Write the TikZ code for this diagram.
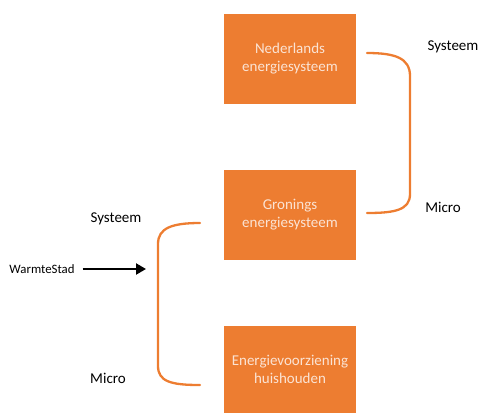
\documentclass[tikz,border=0pt]{standalone}
\usepackage{fontspec}
\setmainfont{Carlito}
\usetikzlibrary{arrows.meta}
\definecolor{boxorange}{HTML}{ED7D31}
\definecolor{boxtext}{HTML}{FBE3D4}
\begin{document}
\begin{tikzpicture}[x=1pt,y=-1pt,
  orangebox/.style={fill=boxorange,draw=none,minimum width=132pt,minimum height=90pt,
    text=boxtext,align=center,font=\fontsize{15}{18}\selectfont,inner sep=0pt},
  lvl/.style={font=\fontsize{15}{18}\selectfont,text=black,inner sep=0pt},
  brace/.style={draw=boxorange,line width=2.3pt,line cap=round}]
\useasboundingbox (0,0) rectangle (479,413);
\node[orangebox] (ned) at (290,59) {Nederlands\\energiesysteem};
\node[orangebox] (gro) at (290,215) {Gronings\\energiesysteem};
\node[orangebox,minimum height=87pt] (hh) at (290,369.5) {Energievoorziening\\huishouden};
\draw[brace] (367,53) .. controls (395,53) and (410,58) .. (410,76) -- (410,194) .. controls (410,210) and (395,213) .. (367,213);
\draw[brace] (200,223) .. controls (172,223) and (158,228) .. (158,244) -- (158,366) .. controls (158,382) and (172,385) .. (200,385);
\node[lvl] (s1) at (453,47) {Systeem};
\node[lvl] (m1) at (443,207) {Micro};
\node[lvl] (s2) at (116,219) {Systeem};
\node[lvl] (m2) at (108,378) {Micro};
\node[font=\fontsize{12.8}{15}\selectfont,inner sep=0pt] (ws) at (42,269) {WarmteStad};
\coordinate (tip) at (146,269);
\draw[line width=2.2pt,-{Triangle[length=10pt,width=11pt]}] ([xshift=8pt]ws.east) -- (tip);
\end{tikzpicture}
\end{document}
